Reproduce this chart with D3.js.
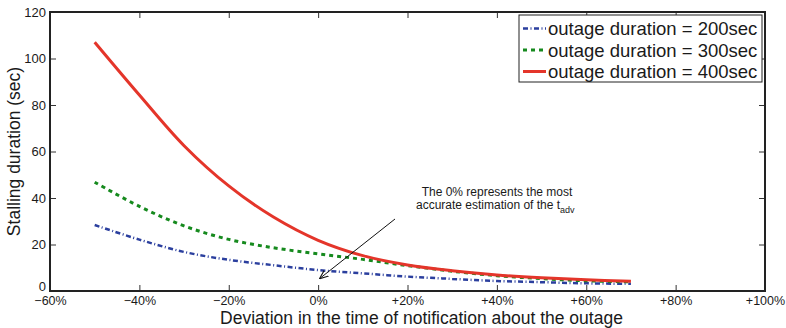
<!DOCTYPE html>
<html>
<head>
<meta charset="utf-8">
<script src="https://cdnjs.cloudflare.com/ajax/libs/d3/7.8.5/d3.min.js"></script>
<style>
  body { margin: 0; background: #fff; }
  svg text { font-family: "Liberation Sans", Arial, Helvetica, sans-serif; fill: #1a1a1a; }
</style>
</head>
<body>
<div id="chart"></div>
<script>
var margin = {top: 12, right: 21, bottom: 37, left: 50};
var width = 786, height = 328;

// deviation of the notification time (%)
var deviation = [-50, -40, -30, -20, -10, 0, 10, 20, 30, 40, 50, 60, 70];

// stalling duration (sec) for each outage duration
var stall200 = [28.4, 22.1, 16.8, 13.4, 11.1, 9.0, 7.6, 6.2, 5.2, 4.3, 3.8, 3.3, 3.1];
var stall300 = [46.8, 36.4, 28.0, 22.2, 18.6, 16.0, 13.6, 10.9, 8.5, 6.6, 5.3, 4.4, 3.9];
var stall400 = [107, 84.3, 62.5, 45.2, 31.8, 21.8, 15.2, 11.2, 8.7, 6.9, 5.7, 4.8, 4.2];

var seriesNames = ['outage duration = 200sec', 'outage duration = 300sec', 'outage duration = 400sec'];

var xTicks = [-60, -40, -20, 0, 20, 40, 60, 80, 100];
var yTicks = [0, 20, 40, 60, 80, 100, 120];

var series = [
  {name: seriesNames[0], values: stall200, color: '#2b3f9e', width: 2.5, dash: '5,2.5,1,2.5'},
  {name: seriesNames[1], values: stall300, color: '#168a1e', width: 3, dash: '4,4'},
  {name: seriesNames[2], values: stall400, color: '#e4352a', width: 3, dash: null}
];

var svg = d3.select('#chart').append('svg')
  .attr('width', width)
  .attr('height', height);

var x = d3.scaleLinear().domain([-60, 100]).range([margin.left, width - margin.right]);
var y = d3.scaleLinear().domain([0, 120]).range([height - margin.bottom, margin.top]);

function fmtPct(d) {
  if (d === 0) return '0%';
  return (d > 0 ? '+' : '\u2212') + Math.abs(d) + '%';
}

// box with inward ticks (matlab style)
var tickLen = 6;
svg.append('g')
  .attr('class', 'x axis')
  .attr('transform', 'translate(0,' + y(0) + ')')
  .call(d3.axisBottom(x).tickValues(xTicks).tickFormat(fmtPct).tickSizeInner(-tickLen).tickSizeOuter(0).tickPadding(5))
  .call(function(g) {
    g.select('.domain').remove();
    g.selectAll('line').attr('stroke', '#333');
    g.selectAll('text').style('font-size', '12.5px');
  });

svg.append('g')
  .attr('transform', 'translate(0,' + y(120) + ')')
  .call(d3.axisTop(x).tickValues(xTicks).tickFormat('').tickSizeInner(-tickLen).tickSizeOuter(0))
  .call(function(g) {
    g.select('.domain').remove();
    g.selectAll('line').attr('stroke', '#333');
  });

svg.append('g')
  .attr('transform', 'translate(' + x(-60) + ',0)')
  .call(d3.axisLeft(y).tickValues(yTicks).tickSizeInner(-tickLen).tickSizeOuter(0).tickPadding(4))
  .call(function(g) {
    g.select('.domain').remove();
    g.selectAll('line').attr('stroke', '#333');
    g.selectAll('text').style('font-size', '13px');
    // lift the "0" a little so it clears the -60% label
    g.selectAll('text').filter(function(d) { return d === 0; }).attr('y', -5);
  });

svg.append('g')
  .attr('transform', 'translate(' + x(100) + ',0)')
  .call(d3.axisRight(y).tickValues(yTicks).tickFormat('').tickSizeInner(-tickLen).tickSizeOuter(0))
  .call(function(g) {
    g.select('.domain').remove();
    g.selectAll('line').attr('stroke', '#333');
  });

svg.append('rect')
  .attr('x', x(-60))
  .attr('y', y(120))
  .attr('width', x(100) - x(-60))
  .attr('height', y(0) - y(120))
  .attr('fill', 'none')
  .attr('stroke', '#222')
  .attr('stroke-width', 2);

var line = d3.line()
  .x(function(d, i) { return x(deviation[i]); })
  .y(function(d) { return y(d); })
  .curve(d3.curveCatmullRom.alpha(0.5));

svg.append('g')
  .selectAll('path')
  .data(series)
  .enter()
  .append('path')
  .attr('d', function(d) { return line(d.values); })
  .attr('fill', 'none')
  .attr('stroke', function(d) { return d.color; })
  .attr('stroke-width', function(d) { return d.width; })
  .attr('stroke-dasharray', function(d) { return d.dash; });

// axis labels
svg.append('text')
  .attr('x', (x(-60) + x(100)) / 2 + 14)
  .attr('y', 323.5)
  .attr('text-anchor', 'middle')
  .style('font-size', '17.5px')
  .text('Deviation in the time of notification about the outage');

svg.append('text')
  .attr('transform', 'translate(20,' + ((y(0) + y(120)) / 2) + ') rotate(-90)')
  .attr('text-anchor', 'middle')
  .style('font-size', '17.5px')
  .text('Stalling duration (sec)');

// annotation + arrow
svg.append('defs').append('marker')
  .attr('id', 'arrowhead')
  .attr('viewBox', '0 0 10 10')
  .attr('refX', 9).attr('refY', 5)
  .attr('markerWidth', 9).attr('markerHeight', 9)
  .attr('orient', 'auto')
  .append('path')
  .attr('d', 'M0,1 L10,5 L0,9')
  .attr('fill', 'none')
  .attr('stroke', '#111')
  .attr('stroke-width', 1.2);

svg.append('line')
  .attr('x1', 395).attr('y1', 219)
  .attr('x2', x(0) + 2).attr('y2', y(5.5))
  .attr('stroke', '#111')
  .attr('stroke-width', 1)
  .attr('marker-end', 'url(#arrowhead)');

svg.append('text')
  .attr('x', 497).attr('y', 195.5)
  .attr('text-anchor', 'middle')
  .style('font-size', '12px')
  .text('The 0% represents the most');

var note2 = svg.append('text')
  .attr('x', 416).attr('y', 209)
  .style('font-size', '12px');
note2.append('tspan').text('accurate estimation of the t');
note2.append('tspan').attr('dy', 4).style('font-size', '9px').text('adv');

// legend
var lg = svg.append('g').attr('transform', 'translate(519,15)');
lg.append('rect')
  .attr('width', 243).attr('height', 67)
  .attr('fill', '#fff')
  .attr('stroke', '#222')
  .attr('stroke-width', 1);

var item = lg.selectAll('g.item')
  .data(series)
  .enter()
  .append('g')
  .attr('class', 'item')
  .attr('transform', function(d, i) { return 'translate(0,' + (13.5 + i * 21.5) + ')'; });

item.append('line')
  .attr('x1', 4).attr('x2', 27)
  .attr('stroke', function(d) { return d.color; })
  .attr('stroke-width', function(d) { return d.width; })
  .attr('stroke-dasharray', function(d) { return d.dash; });

item.append('text')
  .attr('x', 29).attr('y', 6.5)
  .style('font-size', '18.5px')
  .text(function(d) { return d.name; });
</script>
</body>
</html>
